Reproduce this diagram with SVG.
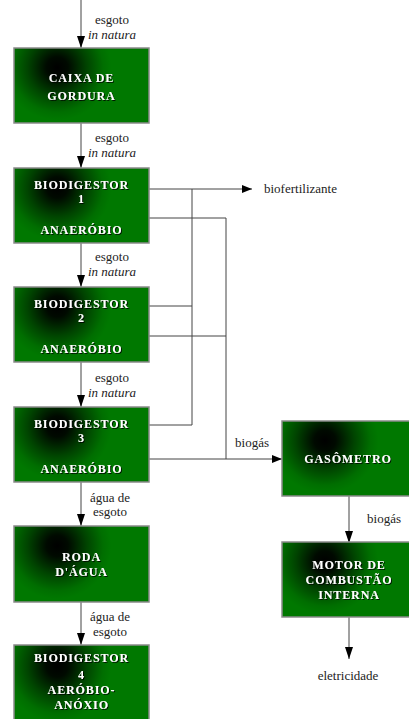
<svg xmlns="http://www.w3.org/2000/svg" width="409" height="719" viewBox="0 0 409 719" font-family="'Liberation Serif', 'DejaVu Serif', serif">
<defs>
<radialGradient id="g" cx="0" cy="0" r="1" fx="0" fy="0" gradientTransform="translate(0.32,0.26) scale(0.4,0.7)">
<stop offset="0" stop-color="#000000"/>
<stop offset="0.2" stop-color="#000a00"/>
<stop offset="0.55" stop-color="#004400"/>
<stop offset="0.85" stop-color="#006e00"/>
<stop offset="1" stop-color="#007800"/>
</radialGradient>
<filter id="sh" x="-10%" y="-20%" width="120%" height="150%">
<feDropShadow dx="1" dy="1" stdDeviation="0.6" flood-color="#000" flood-opacity="0.8"/>
</filter>
<marker id="ah" viewBox="0 0 10 10" refX="10" refY="5" markerWidth="10" markerHeight="10" markerUnits="userSpaceOnUse" orient="auto">
<path d="M0,1 L10,5 L0,9 Z" fill="#000"/>
</marker>
<marker id="ahv" viewBox="0 0 8 12" refX="4" refY="12" markerWidth="8" markerHeight="12" markerUnits="userSpaceOnUse" orient="0">
<path d="M0,0 L8,0 L4,12 Z" fill="#000"/>
</marker>
</defs>
<style>
.box{fill:url(#g);stroke:#8a8a8a;stroke-width:1.5}
.bt{font-family:'Liberation Serif','DejaVu Serif',serif;font-weight:bold;font-size:12px;fill:#fff;text-anchor:middle;letter-spacing:0.9px;filter:url(#sh)}
.lb{font-family:'Liberation Serif','DejaVu Serif',serif;font-size:13px;fill:#222}
.c{text-anchor:middle}
.it{font-style:italic}
.ln{stroke:#444;stroke-width:1;fill:none}
</style>
<rect width="409" height="719" fill="#fff"/>
<g id="connectors">
<line class="ln" x1="81" y1="0" x2="81" y2="48" marker-end="url(#ahv)"/>
<line class="ln" x1="81" y1="123" x2="81" y2="168" marker-end="url(#ahv)"/>
<line class="ln" x1="81" y1="243" x2="81" y2="287" marker-end="url(#ahv)"/>
<line class="ln" x1="81" y1="362" x2="81" y2="407" marker-end="url(#ahv)"/>
<line class="ln" x1="81" y1="482" x2="81" y2="526" marker-end="url(#ahv)"/>
<line class="ln" x1="81" y1="602" x2="81" y2="645" marker-end="url(#ahv)"/>
<line class="ln" x1="149" y1="189" x2="252" y2="189" marker-end="url(#ah)"/>
<polyline class="ln" points="192,189 192,425 149,425"/>
<line class="ln" x1="149" y1="306" x2="192" y2="306"/>
<polyline class="ln" points="149,218 226,218 226,459"/>
<line class="ln" x1="149" y1="336" x2="226" y2="336"/>
<line class="ln" x1="149" y1="459" x2="282" y2="459" marker-end="url(#ah)"/>
<line class="ln" x1="349" y1="496" x2="349" y2="543" marker-end="url(#ahv)"/>
<line class="ln" x1="349" y1="617" x2="349" y2="659" marker-end="url(#ahv)"/>
<text class="lb c" x="112" y="24">esgoto</text>
<text class="lb c it" x="112" y="39">in natura</text>
<text class="lb c" x="112" y="142">esgoto</text>
<text class="lb c it" x="112" y="157">in natura</text>
<text class="lb c" x="112" y="261">esgoto</text>
<text class="lb c it" x="112" y="276">in natura</text>
<text class="lb c" x="112" y="382">esgoto</text>
<text class="lb c it" x="112" y="397">in natura</text>
<text class="lb c" x="110" y="502">água de</text>
<text class="lb c" x="110" y="516">esgoto</text>
<text class="lb c" x="110" y="621">água de</text>
<text class="lb c" x="110" y="636">esgoto</text>
<text class="lb" x="264" y="193">biofertilizante</text>
<text class="lb c" x="252" y="447">biogás</text>
<text class="lb c" x="384" y="523">biogás</text>
<text class="lb c" x="348" y="680">eletricidade</text>
</g>
<g id="caixa">
<rect class="box" x="14" y="48" width="135" height="75"/>
<text class="bt" x="81.5" y="82">CAIXA DE</text>
<text class="bt" x="81.5" y="100">GORDURA</text>
</g>
<g id="bio1">
<rect class="box" x="14" y="168" width="135" height="75"/>
<text class="bt" x="81.5" y="189">BIODIGESTOR</text>
<text class="bt" x="81.5" y="203">1</text>
<text class="bt" x="81.5" y="234">ANAERÓBIO</text>
</g>
<g id="bio2">
<rect class="box" x="14" y="287" width="135" height="75"/>
<text class="bt" x="81.5" y="308">BIODIGESTOR</text>
<text class="bt" x="81.5" y="322">2</text>
<text class="bt" x="81.5" y="353">ANAERÓBIO</text>
</g>
<g id="bio3">
<rect class="box" x="14" y="407" width="135" height="75"/>
<text class="bt" x="81.5" y="428">BIODIGESTOR</text>
<text class="bt" x="81.5" y="442">3</text>
<text class="bt" x="81.5" y="473">ANAERÓBIO</text>
</g>
<g id="roda">
<rect class="box" x="14" y="526" width="135" height="76"/>
<text class="bt" x="81.5" y="561">RODA</text>
<text class="bt" x="81.5" y="576">D'ÁGUA</text>
</g>
<g id="bio4">
<rect class="box" x="14" y="645" width="135" height="80"/>
<text class="bt" x="81.5" y="662">BIODIGESTOR</text>
<text class="bt" x="81.5" y="679">4</text>
<text class="bt" x="81.5" y="694">AERÓBIO-</text>
<text class="bt" x="81.5" y="709">ANÓXIO</text>
</g>
<g id="gasometro">
<rect class="box" x="282" y="421" width="134" height="75"/>
<text class="bt" x="348" y="463">GASÔMETRO</text>
</g>
<g id="motor">
<rect class="box" x="282" y="542" width="134" height="75"/>
<text class="bt" x="349" y="569">MOTOR DE</text>
<text class="bt" x="349" y="584">COMBUSTÃO</text>
<text class="bt" x="349" y="599">INTERNA</text>
</g>
</svg>
